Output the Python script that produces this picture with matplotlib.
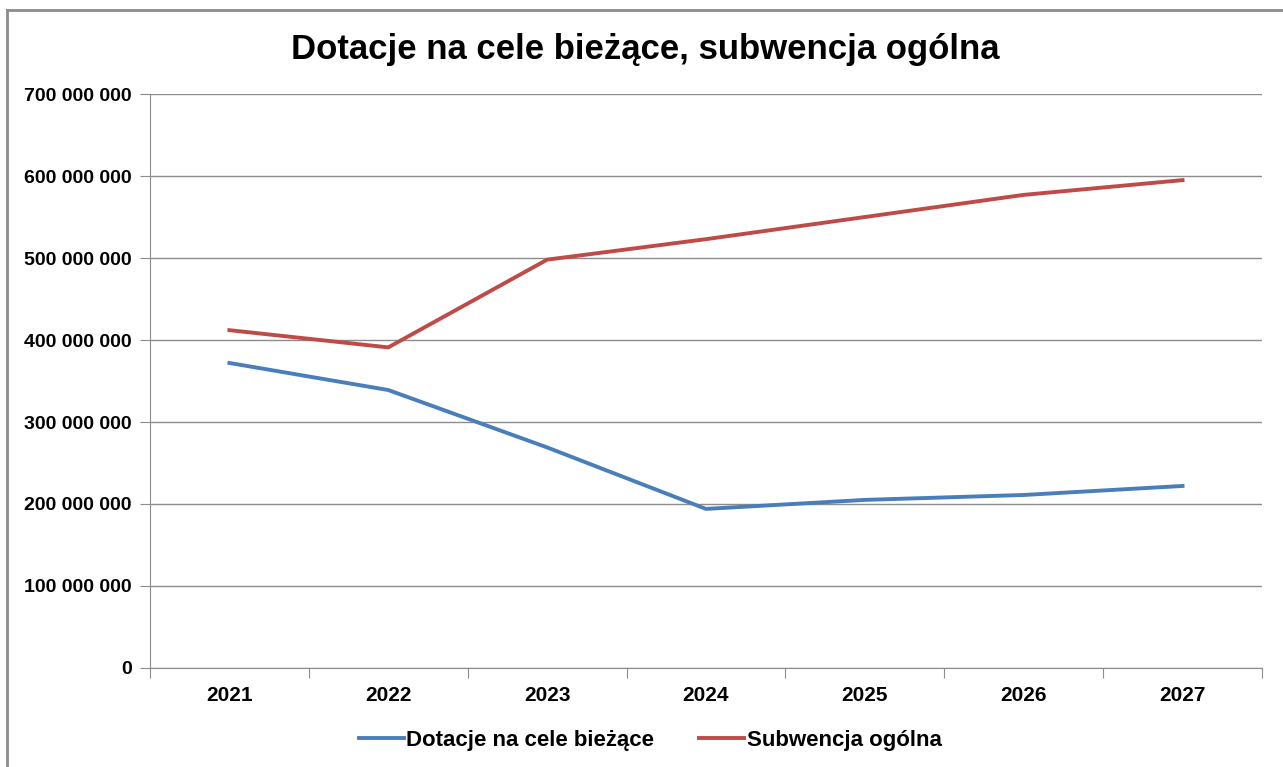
import matplotlib
matplotlib.use("Agg")
import matplotlib.pyplot as plt
from matplotlib.ticker import FuncFormatter
from matplotlib.lines import Line2D

plt.rcParams['font.family'] = ['Liberation Sans', 'DejaVu Sans']

years = ["2021", "2022", "2023", "2024", "2025", "2026", "2027"]
dotacje = [372e6, 339e6, 269e6, 194e6, 205e6, 211e6, 222e6]
subwencja = [412e6, 391e6, 498e6, 523e6, 550e6, 577e6, 595e6]

fig = plt.figure(figsize=(12.83, 7.67), dpi=100)
ax = fig.add_axes([0.1169, 0.1291, 0.8667, 0.7483])

x = range(len(years))
ax.plot(x, dotacje, color="#4a7ebb", lw=2.8, label="Dotacje na cele bieżące")
ax.plot(x, subwencja, color="#be4b48", lw=2.8, label="Subwencja ogólna")

ax.set_xlim(-0.5, len(years) - 0.5)
ax.set_ylim(0, 700e6)
ax.set_yticks(range(0, 700000001, 100000000))
ax.yaxis.set_major_formatter(FuncFormatter(lambda v, p: f"{int(v):,}".replace(",", " ")))
ax.set_xticks([i - 0.5 for i in range(len(years) + 1)])
ax.set_xticklabels([])
ax.set_xticks(list(x), minor=True)
ax.set_xticklabels(years, minor=True)
ax.tick_params(axis="x", which="minor", length=0, pad=13)
ax.tick_params(axis="x", which="major", length=7, color="#8c8c8c")
ax.tick_params(axis="y", length=7, color="#8c8c8c", pad=6)
for lab in ax.get_yticklabels():
    lab.set_fontweight("bold")
    lab.set_fontsize(14)
for lab in ax.get_xticklabels(minor=True):
    lab.set_fontweight("bold")
    lab.set_fontsize(15)

ax.grid(axis="y", color="#8c8c8c", lw=1)
ax.set_axisbelow(True)
for s in ["top", "right"]:
    ax.spines[s].set_visible(False)
ax.spines["left"].set_color("#8c8c8c")
ax.spines["bottom"].set_color("#8c8c8c")

fig.text(0.503, 0.935, "Dotacje na cele bieżące, subwencja ogólna",
         ha="center", va="center", fontsize=25, fontweight="bold")

leg = fig.legend(loc="center", bbox_to_anchor=(0.5066, 0.035), ncol=2, frameon=False,
                 prop={"weight": "bold", "size": 16}, handlelength=2.05,
                 handletextpad=0.1, columnspacing=2.0)

# outer chart border (top and left edges visible)
fig.add_artist(Line2D([7 / 1283, 1], [1 - 10 / 767, 1 - 10 / 767], transform=fig.transFigure,
                      color="#8c8c8c", lw=2))
fig.add_artist(Line2D([7 / 1283, 7 / 1283], [0, 1 - 10 / 767], transform=fig.transFigure,
                      color="#8c8c8c", lw=2))

fig.savefig("out.png", dpi=100)
